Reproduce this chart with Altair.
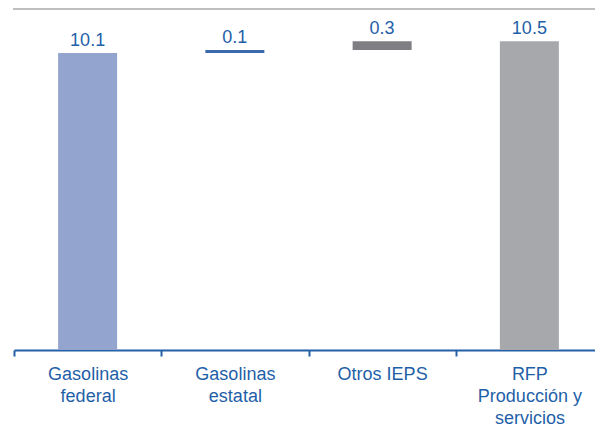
import altair as alt
import pandas as pd

categories = ["Gasolinas|federal", "Gasolinas|estatal", "Otros IEPS", "RFP|Producción y|servicios"]
values = [10.1, 0.1, 0.3, 10.5]
is_total = [False, False, False, True]
labels = ["10.1", "0.1", "0.3", "10.5"]
colors = ["#93A5CF", "#3A69AD", "#7F7F83", "#A7A8AC"]

starts, ends = [], []
run = 0.0
for v, t in zip(values, is_total):
    if t:
        starts.append(0.0)
        ends.append(v)
    else:
        starts.append(run)
        ends.append(run + v)
        run += v

df = pd.DataFrame({"cat": categories, "start": starts, "end": ends,
                   "label": labels, "color": colors})

TXT = "#1F5FA8"
AX = "#2360A8"
FONT = "Liberation Sans"

xenc = alt.X("cat:N", sort=categories,
             scale=alt.Scale(range=[0, 589], paddingInner=0, paddingOuter=0),
             axis=alt.Axis(title=None, labelExpr="split(datum.label, '|')",
                           labelFontSize=18, labelFont=FONT, labelColor=TXT,
                           labelLineHeight=22, labelAngle=0, labelBaseline="top",
                           labelPadding=9, tickSize=6, tickColor=AX, tickWidth=2,
                           domainColor=AX, domainWidth=2, tickBand="extent",
                           labelLimit=250))

base = alt.Chart(df)
bars = base.mark_bar(size=59).encode(
    x=xenc,
    y=alt.Y("start:Q", scale=alt.Scale(domain=[0, 11.63], nice=False, zero=True), axis=None),
    y2="end:Q",
    color=alt.Color("color:N", scale=None),
)
text = base.mark_text(baseline="alphabetic", dy=-7, fontSize=18, font=FONT, color=TXT).encode(
    x=alt.X("cat:N", sort=categories),
    y=alt.Y("end:Q"),
    text="label:N",
)
topline = alt.Chart(pd.DataFrame({"a": [0]})).mark_rule(color="#BFBFBF", strokeWidth=2).encode(
    y=alt.value(1), x=alt.value(-1), x2=alt.value(589)
)

chart = alt.layer(topline, bars, text).properties(
    width=581, height=342,
    padding={"left": 6, "top": 0, "right": 0, "bottom": 79},
    autosize=alt.AutoSizeParams(type="none"),
).configure_view(stroke=None)

chart.save("out.html", embed_options={"renderer": "svg", "actions": False})
